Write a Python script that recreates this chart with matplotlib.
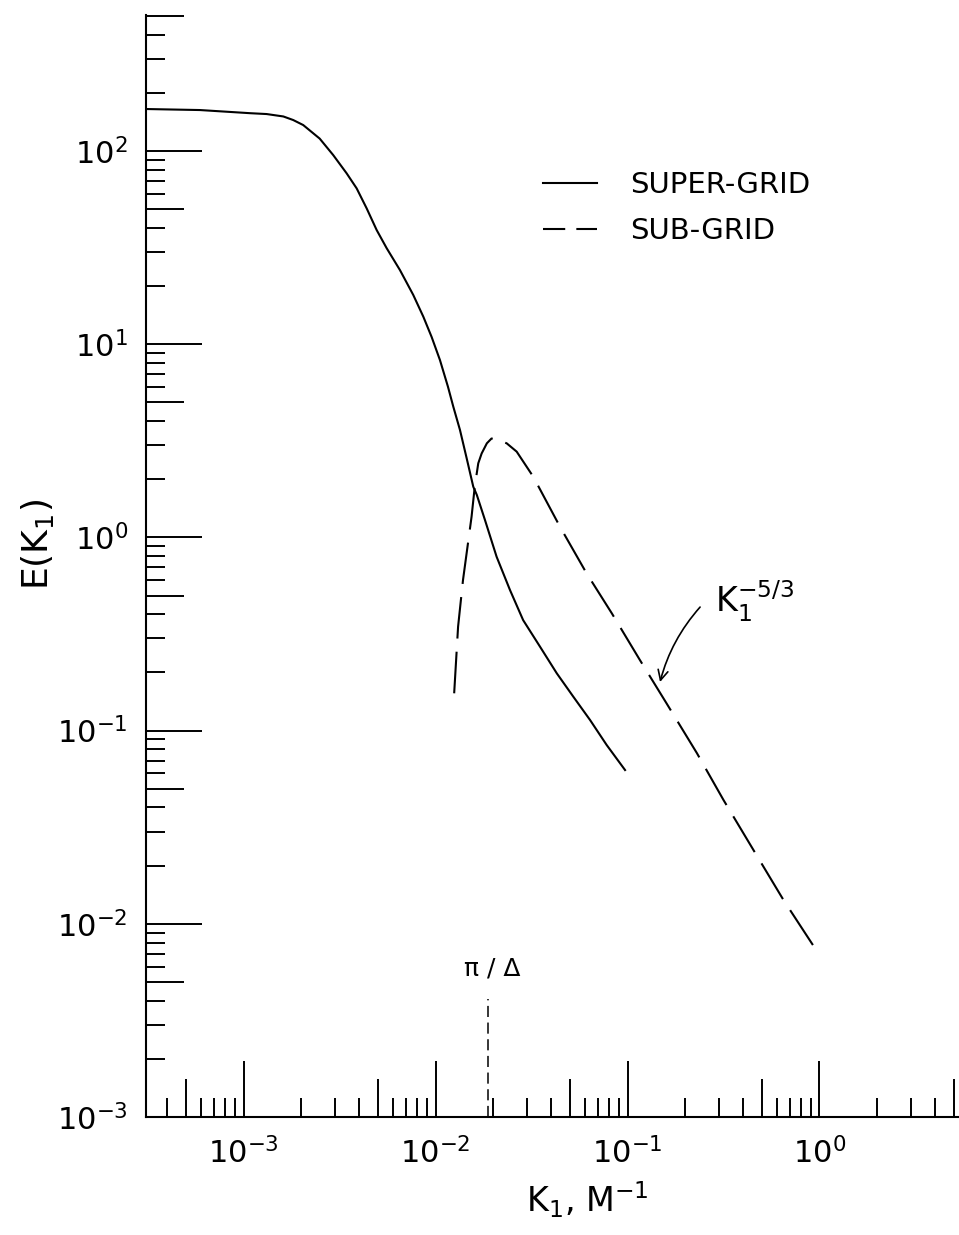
import matplotlib
matplotlib.use("Agg")
import matplotlib.pyplot as plt
from matplotlib.lines import Line2D
from matplotlib.ticker import LogLocator, NullFormatter, NullLocator

plt.rcParams["font.family"] = ["DejaVu Sans"]
plt.rcParams["mathtext.fontset"] = "dejavusans"
plt.rcParams["lines.scale_dashes"] = False

# One-dimensional energy spectra E(K1) versus wavenumber K1 (1/m)
k_super = [3.10e-4, 5.92e-4, 1.08e-3, 1.318e-3, 1.61e-3, 1.813e-3, 2.044e-3,
           2.49e-3, 2.929e-3, 3.44e-3, 3.88e-3, 4.375e-3, 4.933e-3, 5.563e-3,
           6.523e-3, 7.65e-3, 8.63e-3, 9.54e-3, 1.054e-2, 1.16e-2, 1.237e-2,
           1.34e-2, 1.452e-2, 1.572e-2, 1.64e-2, 1.809e-2, 2.08e-2, 2.442e-2,
           2.86e-2, 3.50e-2, 4.28e-2, 5.22e-2, 6.38e-2, 7.79e-2, 9.71e-2]
E_super = [165, 163, 157, 155.4, 151, 144.7, 136.3,
           116, 95.3, 76.7, 64.1, 50.5, 39.0, 31.4,
           24.2, 18.0, 13.9, 10.9, 8.28, 6.03, 4.75,
           3.60, 2.57, 1.83, 1.66, 1.23, 0.794, 0.534,
           0.373, 0.272, 0.198, 0.1498, 0.1135, 0.0842, 0.0625]

k_sub = [1.25e-2, 1.31e-2, 1.39e-2, 1.54e-2, 1.60e-2, 1.669e-2, 1.738e-2,
         1.85e-2, 1.956e-2, 2.08e-2, 2.347e-2, 2.646e-2, 3.23e-2, 4.45e-2,
         6.12e-2, 8.28e-2, 0.116, 0.160, 0.230, 0.316, 0.453, 0.649, 0.987]
E_sub = [0.156, 0.345, 0.603, 1.28, 1.83, 2.42, 2.72,
         3.07, 3.25, 3.22, 3.07, 2.78, 2.06, 1.135,
         0.652, 0.405, 0.232, 0.138, 0.0764, 0.0438, 0.0241, 0.0133, 0.00703]

# grid cutoff wavenumber pi/Delta and the marker height
k_cut = 0.0188
cut_top = 4.1e-3

labels = ["SUPER-GRID", "SUB-GRID"]

XLIM = (3.10e-4, 5.27)
YLIM = (1e-3, 506)

W, H = 959, 1235
fig = plt.figure(figsize=(W / 100, H / 100), dpi=100)
pos = [146 / W, (H - 1117) / H, 812 / W, 1102 / H]
ax = fig.add_axes(pos)
ax.set_xscale("log")
ax.set_yscale("log")
ax.set_xlim(*XLIM)
ax.set_ylim(*YLIM)

for side in ("top", "right"):
    ax.spines[side].set_visible(False)
for side in ("left", "bottom"):
    ax.spines[side].set_linewidth(1.5)

for axis in (ax.xaxis, ax.yaxis):
    axis.set_major_locator(LogLocator(base=10, numticks=20))
    axis.set_minor_locator(LogLocator(base=10, subs=(2, 3, 4, 6, 7, 8, 9), numticks=20))
    axis.set_minor_formatter(NullFormatter())

ax.tick_params(which="major", direction="in", length=40, width=1.4,
               labelsize=22, top=False, right=False)
ax.tick_params(which="minor", direction="in", length=13.7, width=1.4,
               top=False, right=False)
ax.tick_params(axis="x", which="major", pad=14)
ax.tick_params(axis="y", which="major", pad=13)

# spectra
ax.plot(k_super, E_super, color="black", lw=1.5, solid_joinstyle="round")
ax.plot(k_sub, E_sub, color="black", lw=1.5, dashes=(30, 9.5),
        dash_joinstyle="round")

# cutoff marker
ax.plot([k_cut, k_cut], [YLIM[0], cut_top], color="black", lw=1.1, dashes=(8, 4))
ax.text(k_cut * 1.05, 5.9e-3, "π / Δ", fontsize=18, ha="center", va="center")

# -5/3 slope label with arrow
ax.text(0.286, 0.411, r"$\mathrm{K}_1^{-5/3}$", fontsize=24, ha="left", va="baseline")
ax.annotate("", xy=(0.1477, 0.1784), xytext=(0.2388, 0.436),
            arrowprops=dict(arrowstyle="->", lw=1.2, color="black",
                            connectionstyle="arc3,rad=0.12",
                            mutation_scale=18, shrinkA=0, shrinkB=0))

# legend
h_super = Line2D([], [], color="black", lw=1.5)
h_sub = Line2D([], [], color="black", lw=1.5, dashes=(16, 8))
ax.legend([h_super, h_sub], labels, loc="center left",
          bbox_to_anchor=(543 / W, 1 - 208 / H), bbox_transform=fig.transFigure,
          frameon=False, fontsize=21, handlelength=1.85, handletextpad=1.13,
          labelspacing=0.6, borderpad=0, borderaxespad=0)

# axis titles
ax.set_xlabel(r"$\mathrm{K}_1$, M$^{-1}$", fontsize=24)
ax.xaxis.set_label_coords((587 - 146) / 812, (1117 - 1200) / 1102)
ax.xaxis.label.set_va("center")
ax.set_ylabel(r"E($\mathrm{K}_1$)", fontsize=26)
ax.yaxis.set_label_coords((37 - 146) / 812, (1117 - 545) / 1102)
ax.yaxis.label.set_va("center")

# mid-decade (x5) ticks of intermediate length
axm = fig.add_axes(pos)
axm.set_xscale("log")
axm.set_yscale("log")
axm.set_xlim(*XLIM)
axm.set_ylim(*YLIM)
axm.patch.set_visible(False)
for s in axm.spines.values():
    s.set_visible(False)
for axis in (axm.xaxis, axm.yaxis):
    axis.set_major_locator(LogLocator(base=10, subs=(5.0,), numticks=20))
    axis.set_minor_locator(NullLocator())
    axis.set_major_formatter(NullFormatter())
axm.tick_params(which="major", direction="in", length=27.4, width=1.4,
                top=False, right=False, labelleft=False, labelbottom=False)

fig.savefig("out.png", dpi=100, facecolor="white")
